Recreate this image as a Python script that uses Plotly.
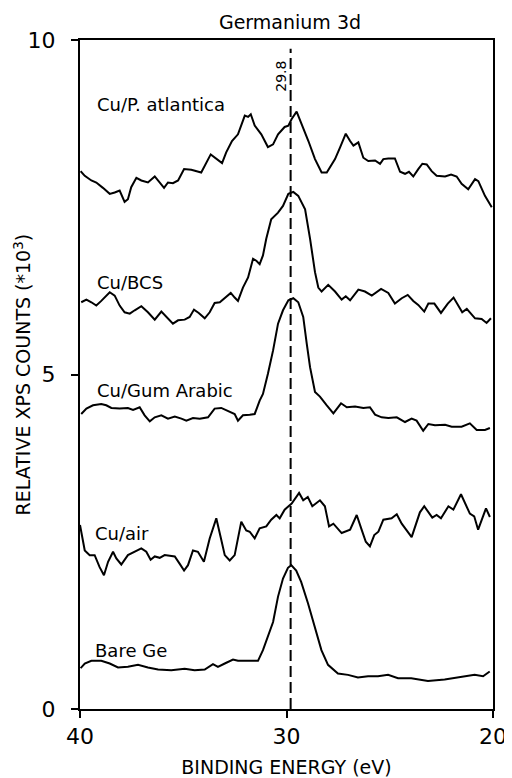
import plotly.graph_objects as go

# ---------------- data (binding energy in eV, relative counts *10^3) ----------------
atlantica_x = [39.97, 39.77, 39.45, 39.21, 38.89, 38.56, 38.32, 38.08, 37.84, 37.68, 37.52, 37.27,
               37.03, 36.71, 36.38, 36.14, 35.93, 35.74, 35.50, 35.25, 34.96, 34.61, 34.13, 33.67,
               33.40, 33.12, 32.92, 32.64, 32.35, 32.02, 31.86, 31.73, 31.54, 31.22, 30.90, 30.65,
               30.41, 30.09, 29.91, 29.75, 29.51, 29.26, 28.94, 28.62, 28.30, 28.05, 27.65, 27.41,
               27.13, 26.92, 26.76, 26.52, 26.28, 26.04, 25.71, 25.47, 25.31, 25.07, 24.75, 24.50,
               24.26, 24.07, 23.86, 23.62, 23.42, 23.21, 22.97, 22.73, 22.32, 22.03, 21.76, 21.52,
               21.20, 20.87, 20.71, 20.39, 20.06]
atlantica_y = [8.04, 7.97, 7.90, 7.87, 7.79, 7.70, 7.72, 7.75, 7.58, 7.62, 7.80, 7.94,
               7.90, 7.87, 7.96, 7.87, 7.79, 7.87, 7.86, 7.90, 8.07, 8.06, 8.02, 8.29,
               8.22, 8.16, 8.32, 8.49, 8.59, 8.87, 8.85, 8.89, 8.72, 8.59, 8.40, 8.44,
               8.59, 8.70, 8.72, 8.82, 8.93, 8.74, 8.49, 8.22, 8.02, 8.02, 8.22, 8.39,
               8.60, 8.49, 8.42, 8.47, 8.24, 8.19, 8.20, 8.15, 8.22, 8.23, 8.23, 8.03,
               8.00, 8.03, 7.96, 8.07, 8.15, 8.14, 8.04, 7.97, 7.96, 7.99, 7.96, 7.85,
               7.77, 7.92, 7.89, 7.67, 7.50]

bcs_x = [39.94, 39.69, 39.45, 39.21, 38.97, 38.56, 38.32, 38.08, 37.84, 37.59, 37.35, 37.03,
         36.71, 36.38, 36.06, 35.82, 35.50, 35.25, 34.93, 34.69, 34.48, 34.25, 33.96, 33.72,
         33.48, 33.23, 32.92, 32.70, 32.51, 32.35, 32.11, 31.86, 31.62, 31.46, 31.30, 31.14,
         30.98, 30.74, 30.41, 30.17, 29.91, 29.67, 29.43, 29.10, 28.86, 28.62, 28.46, 28.30,
         27.98, 27.65, 27.33, 27.13, 26.92, 26.52, 26.20, 25.87, 25.42, 25.07, 24.75, 24.42,
         24.13, 23.86, 23.62, 23.33, 23.13, 22.84, 22.52, 22.19, 21.91, 21.68, 21.49, 21.27,
         20.87, 20.55, 20.31, 20.10]
bcs_y = [6.08, 6.12, 6.08, 6.03, 6.10, 6.23, 6.18, 6.03, 5.93, 5.91, 5.96, 6.02,
         5.93, 5.82, 5.94, 5.86, 5.76, 5.81, 5.82, 5.86, 5.97, 5.92, 5.84, 5.93,
         6.07, 6.08, 6.17, 6.22, 6.15, 6.10, 6.30, 6.45, 6.73, 6.70, 6.65, 6.78,
         7.03, 7.32, 7.42, 7.52, 7.70, 7.73, 7.67, 7.47, 7.03, 6.53, 6.30, 6.24,
         6.34, 6.24, 6.12, 6.17, 6.11, 6.27, 6.24, 6.18, 6.28, 6.22, 6.06, 6.14,
         6.19, 6.10, 6.04, 5.94, 6.06, 6.06, 5.92, 6.06, 6.15, 6.02, 5.93, 5.98,
         5.84, 5.83, 5.77, 5.84]

gum_x = [39.94, 39.69, 39.37, 38.97, 38.73, 38.48, 38.08, 37.68, 37.43, 37.11, 36.87, 36.62,
         36.38, 36.06, 35.74, 35.41, 35.09, 34.85, 34.53, 34.20, 33.80, 33.48, 33.16, 32.83,
         32.51, 32.35, 32.11, 31.78, 31.54, 31.30, 31.14, 30.90, 30.65, 30.41, 30.17, 29.91,
         29.67, 29.43, 29.19, 29.02, 28.86, 28.62, 28.38, 28.05, 27.73, 27.36, 27.08, 26.68,
         26.28, 25.96, 25.71, 25.39, 25.07, 24.66, 24.26, 23.94, 23.70, 23.38, 23.13, 22.81,
         22.32, 22.00, 21.52, 21.12, 20.79, 20.39, 20.15]
gum_y = [4.41, 4.49, 4.54, 4.56, 4.54, 4.50, 4.49, 4.50, 4.47, 4.51, 4.39, 4.30,
         4.36, 4.39, 4.34, 4.37, 4.34, 4.31, 4.35, 4.34, 4.36, 4.49, 4.50, 4.45,
         4.41, 4.31, 4.39, 4.40, 4.41, 4.61, 4.71, 5.01, 5.36, 5.76, 5.96, 6.11,
         6.14, 6.08, 5.86, 5.46, 5.11, 4.74, 4.67, 4.54, 4.42, 4.57, 4.51, 4.52,
         4.50, 4.51, 4.40, 4.36, 4.35, 4.36, 4.29, 4.34, 4.31, 4.16, 4.26, 4.24,
         4.25, 4.22, 4.22, 4.27, 4.17, 4.17, 4.20]

air_x = [40.00, 39.77, 39.53, 39.29, 39.05, 38.84, 38.64, 38.40, 38.24, 38.00, 37.68, 37.35,
         37.03, 36.79, 36.58, 36.38, 36.14, 35.90, 35.41, 35.17, 34.96, 34.77, 34.53, 34.29,
         34.00, 33.72, 33.40, 33.19, 32.99, 32.75, 32.51, 32.19, 31.95, 31.78, 31.54, 31.30,
         30.98, 30.74, 30.49, 30.33, 30.09, 29.75, 29.39, 29.19, 28.97, 28.75, 28.38, 28.14,
         27.94, 27.73, 27.33, 26.92, 26.60, 26.35, 26.16, 25.96, 25.75, 25.55, 25.31, 24.91,
         24.66, 24.42, 23.94, 23.54, 23.33, 22.94, 22.73, 22.52, 22.16, 21.92, 21.55, 21.12,
         20.91, 20.72, 20.34, 20.15]
air_y = [2.75, 2.37, 2.30, 2.30, 2.12, 2.00, 2.20, 2.35, 2.25, 2.16, 2.30, 2.35,
         2.40, 2.35, 2.23, 2.28, 2.26, 2.30, 2.28, 2.17, 2.07, 2.15, 2.37, 2.35,
         2.20, 2.55, 2.85, 2.57, 2.30, 2.22, 2.30, 2.80, 2.67, 2.65, 2.55, 2.70,
         2.73, 2.83, 2.90, 2.85, 2.98, 3.07, 3.23, 3.12, 3.17, 3.03, 3.12, 3.03,
         2.73, 2.77, 2.63, 2.68, 2.90, 2.67, 2.50, 2.43, 2.60, 2.65, 2.83, 2.85,
         2.91, 2.77, 2.57, 2.94, 3.03, 2.86, 2.90, 2.85, 3.03, 2.98, 3.21, 2.92,
         2.88, 2.68, 3.00, 2.87]

bare_x = [39.97, 39.77, 39.45, 38.97, 38.56, 38.16, 37.68, 37.19, 36.71, 36.22, 35.58, 34.93,
          34.45, 33.96, 33.56, 33.32, 32.99, 32.59, 32.35, 31.86, 31.38, 31.14, 30.90, 30.65,
          30.41, 30.17, 29.93, 29.77, 29.53, 29.29, 28.96, 28.63, 28.31, 27.99, 27.51, 27.02,
          26.54, 26.05, 25.57, 25.08, 24.60, 23.96, 23.15, 22.34, 21.54, 20.89, 20.48, 20.16]
bare_y = [0.61, 0.68, 0.72, 0.72, 0.68, 0.62, 0.63, 0.66, 0.62, 0.59, 0.58, 0.60,
          0.58, 0.59, 0.67, 0.63, 0.68, 0.74, 0.72, 0.72, 0.72, 0.88, 1.10, 1.30,
          1.68, 1.95, 2.11, 2.15, 2.07, 1.90, 1.58, 1.23, 0.88, 0.66, 0.53, 0.51,
          0.47, 0.49, 0.49, 0.51, 0.46, 0.46, 0.42, 0.44, 0.48, 0.51, 0.49, 0.56]

series_names = ["Cu/P. atlantica", "Cu/BCS", "Cu/Gum Arabic", "Cu/air", "Bare Ge"]
label_x = [39.27, 39.27, 39.27, 39.35, 39.35]
label_y = [9.04, 6.37, 4.76, 2.63, 0.88]

peak_ev = 29.8
peak_line_top = 9.87
peak_label_y = 9.46

x_ticks = [40, 30, 20]
y_ticks = [0, 5, 10]

FONT = "DejaVu Sans"

# page body has an 8px default margin, so the figure is 8px smaller than the window
W, H = 504, 770
ML, MR, MT, MB = 72, 19, 32, 69
PLOT_W = W - ML - MR

fig = go.Figure()
series = [(atlantica_x, atlantica_y), (bcs_x, bcs_y), (gum_x, gum_y), (air_x, air_y), (bare_x, bare_y)]
for name, (xs, ys) in zip(series_names, series):
    fig.add_trace(go.Scatter(x=xs, y=ys, mode="lines", name=name,
                             line=dict(color="black", width=2), showlegend=False))

# dashed reference line at the Ge 3d peak
fig.add_trace(go.Scatter(x=[peak_ev, peak_ev], y=[0, peak_line_top], mode="lines",
                         line=dict(color="black", width=2, dash="11px,5px"),
                         showlegend=False, hoverinfo="skip"))

annotations = []
for name, lx, ly in zip(series_names, label_x, label_y):
    annotations.append(dict(x=lx, y=ly, xref="x", yref="y", text=name, showarrow=False,
                            xanchor="left", yanchor="middle",
                            font=dict(family=FONT, size=18, color="black")))
annotations.append(dict(x=peak_ev, y=peak_label_y, xref="x", yref="y", text=str(peak_ev),
                        showarrow=False, textangle=-90, xshift=-10,
                        font=dict(family=FONT, size=14, color="black")))
annotations.append(dict(x=(14 - ML) / PLOT_W, y=0.5, xref="paper", yref="paper",
                        text="RELATIVE XPS COUNTS (*10<sup>3</sup>)", showarrow=False,
                        textangle=-90, xanchor="center", yanchor="middle",
                        font=dict(family=FONT, size=19, color="black")))

fig.update_layout(
    width=W, height=H,
    margin=dict(l=ML, r=MR, t=MT, b=MB),
    paper_bgcolor="white", plot_bgcolor="white",
    title=dict(text="Germanium 3d", x=282 / W, xanchor="center",
               y=1 - 14 / H, yanchor="middle",
               font=dict(family=FONT, size=19, color="black")),
    annotations=annotations,
    xaxis=dict(range=[40, 20], tickvals=x_ticks, ticktext=[str(v) for v in x_ticks],
               showline=True, mirror=True, linecolor="black", linewidth=2,
               ticks="outside", ticklen=7, tickwidth=2, tickcolor="black",
               showgrid=False, zeroline=False, automargin=False,
               ticklabelstandoff=0,
               tickfont=dict(family=FONT, size=22, color="black"),
               title=dict(text="BINDING ENERGY (eV)", standoff=12,
                          font=dict(family=FONT, size=19, color="black"))),
    yaxis=dict(range=[0, 10], tickvals=y_ticks, ticktext=[str(v) for v in y_ticks],
               showline=True, mirror=True, linecolor="black", linewidth=2,
               ticks="outside", ticklen=7, tickwidth=2, tickcolor="black",
               showgrid=False, zeroline=False, automargin=False,
               ticklabelstandoff=11,
               tickfont=dict(family=FONT, size=22, color="black")),
)

fig.write_html("out.html")
